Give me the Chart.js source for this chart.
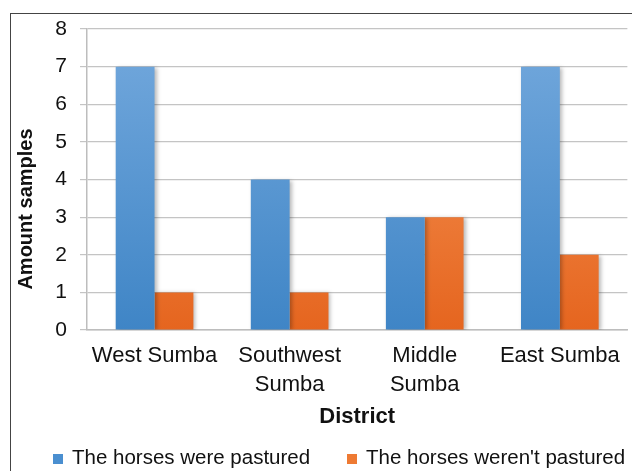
<!DOCTYPE html>
<html>
<head>
<meta charset="utf-8">
<script src="https://cdn.jsdelivr.net/npm/chart.js@4"></script>
<style>
  html, body { margin: 0; padding: 0; background: #fff; }
  #wrap { position: relative; width: 632px; height: 471px; overflow: hidden; }
  #frame { position: absolute; left: 10px; top: 13px; width: 700px; height: 600px; border: 1.5px solid #444; pointer-events: none; }
  canvas { position: absolute; left: 0; top: 0; }
</style>
</head>
<body>
<div id="wrap">
  <canvas id="c" width="632" height="471"></canvas>
  <div id="frame"></div>
</div>
<script>
const categories = [["West Sumba"], ["Southwest", "Sumba"], ["Middle", "Sumba"], ["East Sumba"]];
const pastured = [7, 4, 3, 7];
const notPastured = [1, 1, 3, 2];
const seriesNames = ["The horses were pastured", "The horses weren't pastured"];
const yTicks = [0, 1, 2, 3, 4, 5, 6, 7, 8];
const yTitle = "Amount samples";
const xTitle = "District";

const FONT = "'Liberation Sans', Arial, sans-serif";
const TEXT = "#111";

function grad(ctx, area, top, bottom) {
  const g = ctx.createLinearGradient(0, area.top, 0, area.bottom);
  g.addColorStop(0, top);
  g.addColorStop(1, bottom);
  return g;
}

const shadowPlugin = {
  id: 'barShadow',
  beforeDatasetsDraw(chart) {
    const ctx = chart.ctx;
    ctx.save();
    ctx.shadowColor = 'rgba(0,0,0,0.28)';
    ctx.shadowBlur = 4;
    ctx.shadowOffsetX = 2;
    ctx.shadowOffsetY = 1;
  },
  afterDatasetsDraw(chart) {
    chart.ctx.restore();
  }
};

const extrasPlugin = {
  id: 'extras',
  afterDraw(chart) {
    const ctx = chart.ctx;
    ctx.save();
    // Y axis title
    ctx.fillStyle = TEXT;
    ctx.font = "bold 20px " + FONT;
    ctx.textAlign = 'center';
    ctx.textBaseline = 'middle';
    ctx.translate(26, 209);
    ctx.rotate(-Math.PI / 2);
    ctx.fillText(yTitle, 0, 0);
    ctx.restore();

    // Legend
    ctx.save();
    ctx.font = "20.5px " + FONT;
    ctx.textBaseline = 'middle';
    ctx.textAlign = 'left';
    const boxX = [53, 347];
    const legendY = 459;
    chart.data.datasets.forEach((ds, i) => {
      ctx.fillStyle = ds.legendColor;
      ctx.fillRect(boxX[i], legendY - 5, 10, 10);
      ctx.fillStyle = TEXT;
      ctx.fillText(ds.label, boxX[i] + 19, legendY - 1);
    });
    ctx.restore();
  }
};

new Chart(document.getElementById('c'), {
  type: 'bar',
  data: {
    labels: categories,
    datasets: [
      {
        label: seriesNames[0],
        data: pastured,
        legendColor: '#4a8fd0',
        backgroundColor: (c) => {
          const a = c.chart.chartArea;
          if (!a) return '#5b9bd5';
          return grad(c.chart.ctx, a, '#74a9dd', '#3f85c6');
        },
        borderWidth: 0
      },
      {
        label: seriesNames[1],
        data: notPastured,
        legendColor: '#ee7a33',
        backgroundColor: (c) => {
          const a = c.chart.chartArea;
          if (!a) return '#ed7d31';
          return grad(c.chart.ctx, a, '#f89a5c', '#e5651f');
        },
        borderWidth: 0
      }
    ]
  },
  options: {
    responsive: false,
    animation: false,
    layout: { padding: { top: 29, right: 2, bottom: 0, left: 0 } },
    plugins: {
      legend: { display: false },
      tooltip: { enabled: false }
    },
    datasets: {
      bar: { categoryPercentage: 0.575, barPercentage: 1.0 }
    },
    scales: {
      x: {
        grid: { display: false, drawTicks: false },
        border: { display: true, color: '#bdbdbd', width: 1.5 },
        ticks: {
          color: TEXT,
          font: { family: FONT, size: 22, lineHeight: 1.3 },
          padding: 12,
          maxRotation: 0,
          autoSkip: false
        },
        title: {
          display: true,
          text: xTitle,
          color: TEXT,
          font: { family: FONT, size: 22, weight: 'bold' },
          padding: { top: 0, bottom: 41 }
        },
        afterFit(scale) { scale.height = 141; }
      },
      y: {
        min: 0,
        max: 8,
        afterBuildTicks(scale) { scale.ticks = yTicks.map(v => ({ value: v })); },
        grid: { color: '#c4c4c4', lineWidth: 1.2, tickLength: 7 },
        border: { display: true, color: '#bdbdbd', width: 1.5 },
        ticks: {
          color: TEXT,
          font: { family: FONT, size: 21 },
          padding: 13
        },
        afterFit(scale) { scale.width = 87; }
      }
    }
  },
  plugins: [shadowPlugin, extrasPlugin]
});
</script>
</body>
</html>
